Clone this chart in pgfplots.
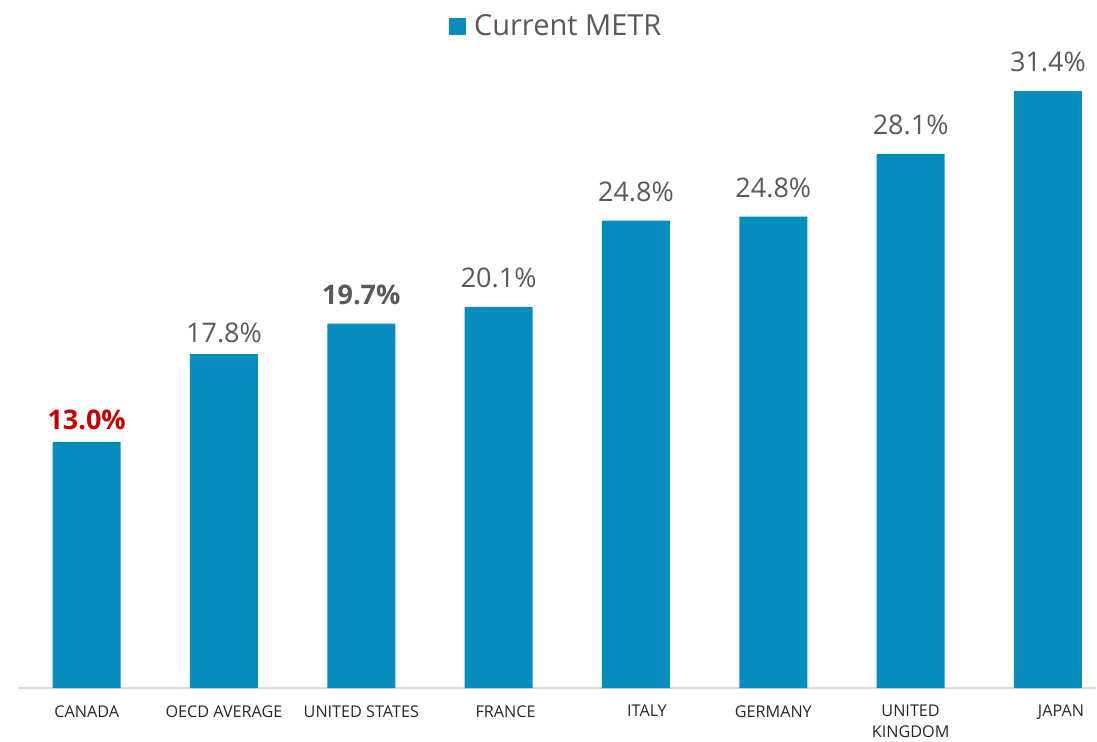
\documentclass[border=0pt]{standalone}
\usepackage{pgfplots}
\pgfplotsset{compat=1.18}
\usepackage{fontspec}
\setmainfont{Open Sans}
\definecolor{barblue}{HTML}{068DBB}
\definecolor{labgray}{HTML}{595959}
\definecolor{canred}{HTML}{C00000}
\definecolor{basegray}{HTML}{D9D9D9}
\definecolor{tickdark}{HTML}{262626}
% labels that sit a little lower than the others
\newcommand{\lowlab}[2]{\raisebox{-#1}[\height][\depth]{#2}}
\begin{document}
\begin{tikzpicture}
\useasboundingbox (-9pt,-26.5pt) rectangle (539.5pt,344pt);
\begin{axis}[
  scale only axis,
  width=539pt, height=344pt,
  xmin=-0.5, xmax=7.35,
  ymin=0, ymax=36.2,
  ybar, bar width=34pt,
  axis x line=bottom, axis y line=none,
  x axis line style={draw=basegray, line width=0.8pt, -},
  xtick={0,...,7},
  xticklabels={CANADA, OECD AVERAGE, UNITED STATES, \hspace*{7pt}FRANCE, \hspace*{11pt}ITALY, GERMANY, {UNITED\\KINGDOM}, \hspace*{13pt}JAPAN},
  xtick style={draw=none},
  xticklabel style={font=\fontsize{8.1}{10.3}\selectfont, text=tickdark, align=center, anchor=north, yshift=-3pt},
  nodes near coords={\pgfplotspointmeta},
  point meta=explicit symbolic,
  every node near coord/.append style={font=\fontsize{13.5}{16}\selectfont, text=labgray, anchor=south, yshift=6pt},
  legend style={draw=none, at={(0.5,0.962)}, anchor=center, font=\fontsize{14.5}{17}\selectfont, text=labgray, inner sep=0pt},
  legend image code/.code={\fill[barblue] (0pt,-4.3pt) rectangle (8.7pt,4.3pt);},
  clip=false,
]
\addplot[fill=barblue, draw=none] coordinates {
  (0,12.95) [{\lowlab{3.4pt}{\textcolor{canred}{\bfseries 13.0\%}}}]
  (1,17.57) [{\lowlab{3.7pt}{17.8\%}}]
  (2,19.17) [{\textbf{19.7\%}}]
  (3,20.06) [20.1\%]
  (4,24.59) [24.8\%]
  (5,24.80) [24.8\%]
  (6,28.10) [28.1\%]
  (7,31.40) [31.4\%]
};
\addlegendentry{\hspace{2pt}Current METR}
\end{axis}
\end{tikzpicture}
\end{document}
